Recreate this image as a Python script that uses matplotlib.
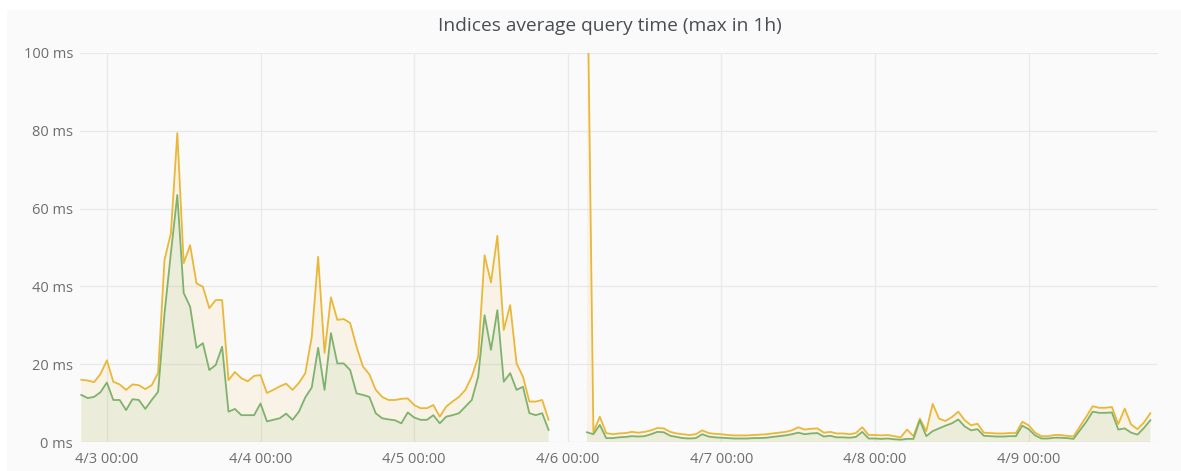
import numpy as np
import pandas as pd
import matplotlib
matplotlib.use('Agg')
import matplotlib.pyplot as plt
from matplotlib.patches import Rectangle

# hourly samples, 4/2 20:00 -> 4/9 19:00
times = pd.date_range('2019-04-02 20:00', periods=168, freq='h')

# upper (yellow) series, ms
yellow_ms = [16.0, 15.8, 15.4, 17.5, 21.0, 15.5, 14.8, 13.4, 14.8, 14.6, 13.6, 14.6, 17.7,
             46.8, 53.7, 79.4, 46.0, 50.6, 40.8, 39.9, 34.4, 36.5, 36.5,
             15.9, 18.0, 16.4, 15.6, 17.0, 17.2,
             12.6, 13.4, 14.3, 15.0, 13.4, 15.2, 17.7,
             27.0, 47.6, 22.9, 37.2, 31.4, 31.6, 30.6, 24.5, 19.4, 17.4,
             13.4, 11.6, 10.8, 10.8, 11.1, 11.2,
             9.5, 8.7, 8.7, 9.5, 6.5, 9.1, 10.4, 11.6, 13.4, 16.8, 21.9,
             48.0, 41.0, 53.0, 28.8, 35.2, 20.2, 16.8, 10.4, 10.4, 10.8, 5.7,
             None, None, None, None, None,
             130, 2.5, 6.5, 2.3, 2.0, 2.2, 2.3, 2.6, 2.4, 2.6,
             3.0, 3.6, 3.5, 2.6, 2.2, 2.0, 1.8, 2.0, 3.0, 2.3,
             2.1, 2.0, 1.8, 1.7, 1.7, 1.7, 1.8, 1.9, 2.0, 2.2,
             2.4, 2.6, 3.0, 3.8, 3.2, 3.4, 3.5, 2.4, 2.6, 2.2,
             2.2, 2.0, 2.3, 3.8, 1.8, 1.8, 1.7, 1.8, 1.5, 1.2,
             3.2, 1.5, 6.0, 2.8, 9.8, 6.0, 5.4, 6.4, 7.8, 5.6,
             4.3, 4.7, 2.4, 2.3, 2.2, 2.2, 2.3, 2.3, 5.2, 4.3,
             2.4, 1.5, 1.5, 1.8, 1.8, 1.6, 1.4, 4.0, 6.5, 9.2,
             8.8, 8.8, 9.0, 4.6, 8.6, 4.5, 3.3, 5.0, 7.4]

# lower (green) series, ms
green_ms = [12.1, 11.3, 11.6, 12.8, 15.3, 10.8, 10.8, 8.2, 11.0, 10.8, 8.5, 10.8, 12.9,
            33.0, 48.6, 63.5, 38.3, 34.8, 24.2, 25.4, 18.5, 19.8, 24.5,
            7.8, 8.5, 6.9, 6.9, 6.9, 9.9,
            5.3, 5.7, 6.1, 7.3, 5.7, 7.8, 11.5,
            14.0, 24.2, 13.4, 28.0, 20.2, 20.2, 18.5, 12.5, 12.1, 11.6,
            7.4, 6.1, 5.8, 5.6, 4.8, 7.6,
            6.3, 5.7, 5.7, 6.9, 4.8, 6.5, 6.9, 7.4, 9.1, 10.8, 16.8,
            32.6, 23.7, 33.9, 15.5, 17.7, 13.4, 14.2, 7.4, 6.9, 7.4, 3.1,
            None, None, None, None, None,
            2.5, 2.0, 4.4, 1.0, 1.0, 1.2, 1.3, 1.5, 1.4, 1.5,
            2.0, 2.6, 2.5, 1.6, 1.3, 1.0, 0.9, 1.0, 2.0, 1.4,
            1.2, 1.1, 1.0, 0.9, 0.9, 0.9, 1.0, 1.0, 1.1, 1.3,
            1.5, 1.7, 2.0, 2.4, 2.0, 2.2, 2.3, 1.4, 1.6, 1.2,
            1.2, 1.1, 1.3, 2.6, 0.9, 0.9, 0.8, 0.9, 0.7, 0.6,
            0.8, 0.8, 5.6, 1.5, 2.8, 3.5, 4.2, 4.8, 5.8, 4.0,
            3.0, 3.3, 1.6, 1.5, 1.4, 1.4, 1.5, 1.5, 4.2, 3.3,
            1.7, 0.9, 0.9, 1.1, 1.1, 1.0, 0.8, 3.0, 5.2, 7.8,
            7.5, 7.5, 7.6, 3.2, 3.5, 2.4, 1.9, 3.6, 5.6]

y_ticks = [0, 20, 40, 60, 80, 100]
day_ticks = pd.date_range('2019-04-03', '2019-04-09', freq='D')
title = 'Indices average query time (max in 1h)'

plt.rcParams['font.family'] = ['Open Sans', 'DejaVu Sans']

W, H = 1181, 471
fig = plt.figure(figsize=(W / 100, H / 100), dpi=100, facecolor='white')
# panel background
fig.patches.append(Rectangle((7 / W, 0), 1, 1 - 10 / H, transform=fig.transFigure,
                             facecolor='#fafafa', edgecolor='none', zorder=-5))

ax = fig.add_axes([80 / W, 1 - 442 / H, (1158 - 80) / W, (442 - 53) / H])
ax.set_facecolor('#fafafa')

y = np.array(yellow_ms, dtype=float)
g = np.array(green_ms, dtype=float)

ax.fill_between(times, 0, y, color='#EAB839', alpha=0.1, lw=0)
ax.fill_between(times, 0, g, color='#7EB26D', alpha=0.1, lw=0)
ax.plot(times, y, color='#EAB839', lw=1.3)
ax.plot(times, g, color='#7EB26D', lw=1.3)

ax.set_ylim(0, 100)
ax.set_xlim(pd.Timestamp('2019-04-02 19:48'), pd.Timestamp('2019-04-09 20:12'))
ax.set_yticks(y_ticks)
ax.set_yticklabels([f'{v} ms' for v in y_ticks])
ax.set_xticks(day_ticks)
ax.set_xticklabels([f'{d.month}/{d.day} 00:00' for d in day_ticks])

ax.grid(True, color='#e9e9e9', lw=0.9)
ax.set_axisbelow(True)
for s in ax.spines.values():
    s.set_visible(False)
ax.tick_params(length=0, labelsize=10.5, colors='#6e6e6e')
ax.tick_params(axis='x', pad=7)
ax.tick_params(axis='y', pad=5)

fig.text(610 / W, 1 - 26 / H, title, ha='center', va='center',
         fontsize=13.8, color='#4a4d52')

fig.savefig('out.png', dpi=100, facecolor=fig.get_facecolor())
